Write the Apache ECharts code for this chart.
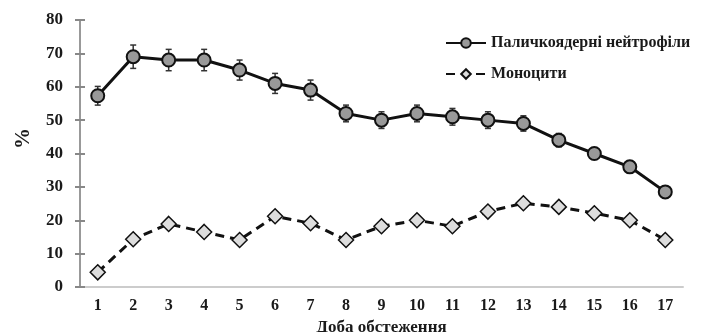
<!DOCTYPE html>
<html>
<head>
<meta charset="utf-8">
<script src="https://cdn.jsdelivr.net/npm/echarts@6/dist/echarts.min.js"></script>
<style>
  html, body { margin: 0; padding: 0; background: #ffffff; }
  #chart { width: 710px; height: 332px; }
</style>
</head>
<body>
<div id="chart"></div>
<script>
var days = ["1", "2", "3", "4", "5", "6", "7", "8", "9", "10", "11", "12", "13", "14", "15", "16", "17"];
var neutrophils = [57.3, 69, 68, 68, 65, 61, 59, 52, 50, 52, 51, 50, 49, 44, 40, 36, 28.5];
var neutroErr = [2.8, 3.5, 3.2, 3.2, 3, 3, 3, 2.5, 2.5, 2.5, 2.5, 2.5, 2.3, 2, 1.5, 1.2, 1.2];
var monocytes = [4.4, 14.3, 18.9, 16.5, 14.1, 21.2, 19.1, 14.1, 18.2, 20, 18.2, 22.6, 25.1, 24, 22.1, 20, 14.1];
var yTicks = { min: 0, max: 80, interval: 10 };

var serif = "'Liberation Serif', 'Times New Roman', serif";
var chart = echarts.init(document.getElementById("chart"));

var errData = days.map(function (d, i) {
  return [i, neutrophils[i] - neutroErr[i], neutrophils[i] + neutroErr[i]];
});

var option = {
  animation: false,
  textStyle: { fontFamily: serif },
  grid: { left: 80, right: 27, top: 20, bottom: 45, outerBoundsMode: "none", containLabel: false },
  legend: {
    orient: "vertical",
    left: 440,
    top: 30,
    itemWidth: 40,
    itemHeight: 12,
    itemGap: 15,
    textStyle: { fontFamily: serif, fontSize: 16, fontWeight: "bold", color: "#1a1a1a" },
    data: ["Паличкоядерні нейтрофіли", "Моноцити"]
  },
  xAxis: {
    type: "category",
    data: days,
    name: "Доба обстеження",
    nameLocation: "middle",
    nameGap: 30,
    nameTextStyle: { fontFamily: serif, fontSize: 17, fontWeight: "bold", color: "#1a1a1a" },
    axisLine: { lineStyle: { color: "#cccccc", width: 2 } },
    axisTick: { show: false },
    axisLabel: { fontFamily: serif, fontSize: 16, fontWeight: "bold", color: "#1a1a1a", margin: 11 }
  },
  yAxis: [
    {
      type: "value",
      min: yTicks.min,
      max: yTicks.max,
      interval: yTicks.interval,
      name: "%",
      nameLocation: "middle",
      nameGap: 46,
      nameTextStyle: { fontFamily: serif, fontSize: 21, fontWeight: "bold", color: "#1a1a1a", padding: [0, 0, 0, 30] },
      splitLine: { show: false },
      axisLine: { show: true, lineStyle: { color: "#999999", width: 2 } },
      axisTick: { show: true, length: 5, lineStyle: { color: "#888888", width: 2 } },
      axisLabel: { fontFamily: serif, fontSize: 17, fontWeight: "bold", color: "#1a1a1a", margin: 17 }
    },
    {
      type: "value",
      position: "left",
      min: yTicks.min,
      max: yTicks.max,
      interval: yTicks.interval,
      splitLine: { show: false },
      axisLine: { show: false },
      axisTick: { show: true, inside: true, length: 5, lineStyle: { color: "#888888", width: 2 } },
      axisLabel: { show: false }
    }
  ],
  series: [
    {
      type: "custom",
      name: "err",
      z: 1,
      data: errData,
      renderItem: function (params, api) {
        var x = api.value(0);
        var lo = api.coord([x, api.value(1)]);
        var hi = api.coord([x, api.value(2)]);
        var cap = 3;
        var st = { stroke: "#333333", lineWidth: 1.5 };
        return {
          type: "group",
          children: [
            { type: "line", shape: { x1: lo[0], y1: lo[1], x2: hi[0], y2: hi[1] }, style: st },
            { type: "line", shape: { x1: lo[0] - cap, y1: lo[1], x2: lo[0] + cap, y2: lo[1] }, style: st },
            { type: "line", shape: { x1: hi[0] - cap, y1: hi[1], x2: hi[0] + cap, y2: hi[1] }, style: st }
          ]
        };
      }
    },
    {
      name: "Паличкоядерні нейтрофіли",
      type: "line",
      z: 3,
      data: neutrophils,
      symbol: "circle",
      symbolSize: 13,
      lineStyle: { color: "#111111", width: 3 },
      itemStyle: { color: "#999999", borderColor: "#111111", borderWidth: 2 }
    },
    {
      name: "Моноцити",
      type: "line",
      z: 3,
      data: monocytes,
      symbol: "diamond",
      symbolSize: 15,
      lineStyle: { color: "#111111", width: 3, type: [9, 6] },
      itemStyle: { color: "#dddddd", borderColor: "#111111", borderWidth: 1.5 }
    }
  ]
};

chart.setOption(option);
</script>
</body>
</html>
